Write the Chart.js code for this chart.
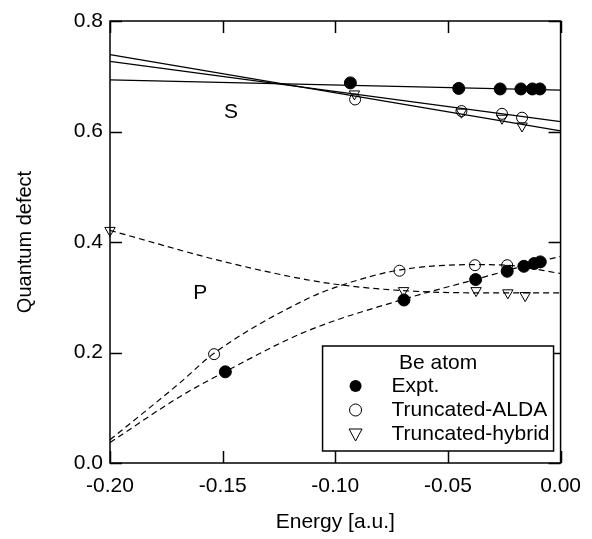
<!DOCTYPE html>
<html>
<head>
<meta charset="utf-8">
<script src="https://cdn.jsdelivr.net/npm/chart.js@4.4.1/dist/chart.umd.min.js"></script>
<style>
  html, body { margin: 0; padding: 0; background: #fff; }
  #grafico { display: block; }
</style>
</head>
<body>
<canvas id="grafico" width="592" height="539"></canvas>
<script>
const xTicks = [-0.20, -0.15, -0.10, -0.05, 0.00];
const yTicks = [0.0, 0.2, 0.4, 0.6, 0.8];

// S series (quantum defect vs energy)
const sExptE = [-0.0933, -0.0452, -0.0268, -0.0176, -0.0125, -0.0092];
const sExptMu = [0.688, 0.678, 0.677, 0.677, 0.677, 0.677];
const sAldaE = [-0.0912, -0.0440, -0.0260, -0.0171];
const sAldaMu = [0.658, 0.637, 0.632, 0.625];
const sHybE = [-0.0915, -0.0440, -0.0260, -0.0171];
const sHybMu = [0.668, 0.635, 0.624, 0.610];

// S straight fits, read at both ends of the axis
const fitE = [-0.20, 0.00];
const sExptFit = [0.6935, 0.6748];
const sAldaFit = [0.7268, 0.6180];
const sHybFit = [0.7393, 0.6010];

// P series
const pExptE = [-0.1488, -0.0695, -0.0377, -0.0237, -0.0163, -0.0117, -0.0090];
const pExptMu = [0.165, 0.295, 0.332, 0.347, 0.356, 0.361, 0.364];
const pAldaE = [-0.1538, -0.0715, -0.0380, -0.0237];
const pAldaMu = [0.197, 0.348, 0.358, 0.358];
const pHybE = [-0.2000, -0.0697, -0.0375, -0.0234, -0.0157];
const pHybMu = [0.421, 0.312, 0.312, 0.308, 0.303];

// P dashed fit curves
const pExptCurveE = [-0.200, -0.169, -0.149, -0.113, -0.070, -0.038, -0.024, -0.012, 0.000];
const pExptCurveMu = [0.037, 0.120, 0.165, 0.238, 0.296, 0.332, 0.348, 0.362, 0.374];
const pAldaCurveE = [-0.200, -0.169, -0.154, -0.113, -0.097, -0.072, -0.039, -0.024, 0.000];
const pAldaCurveMu = [0.042, 0.145, 0.198, 0.296, 0.322, 0.349, 0.359, 0.358, 0.343];
const pHybCurveE = [-0.200, -0.150, -0.113, -0.097, -0.070, -0.038, 0.000];
const pHybCurveMu = [0.421, 0.365, 0.332, 0.322, 0.312, 0.308, 0.308];

const legendTitle = "Be atom";
const legendLabels = ["Expt.", "Truncated-ALDA", "Truncated-hybrid"];

const FONT = "'Liberation Sans', Arial, Helvetica, sans-serif";

const pares = (xs, ys) => xs.map((x, i) => ({ x, y: ys[i] }));

function pontos(data, estilo) {
  const base = {
    data,
    showLine: false,
    clip: 10,
    pointBorderColor: "#000",
    pointBorderWidth: 1,
    pointHoverRadius: 0
  };
  if (estilo === "cheio") {
    return { ...base, pointStyle: "circle", pointRadius: 6, pointBackgroundColor: "#000" };
  }
  if (estilo === "aberto") {
    return { ...base, pointStyle: "circle", pointRadius: 5.5, pointBackgroundColor: "rgba(0,0,0,0)" };
  }
  return { ...base, pointStyle: "triangle", rotation: 180, pointRadius: 6, pointBackgroundColor: "rgba(0,0,0,0)" };
}

function linha(data, tracejada) {
  return {
    data,
    showLine: true,
    pointRadius: 0,
    borderColor: "#000",
    borderWidth: 1.2,
    borderDash: tracejada ? [6, 4] : [],
    cubicInterpolationMode: tracejada ? "monotone" : "default",
    clip: 2
  };
}

const moldura = {
  id: "moldura",
  afterDatasetsDraw(chart) {
    const { ctx, chartArea: a, scales: { x, y } } = chart;
    const tl = 12;
    ctx.save();
    ctx.strokeStyle = "#000";
    ctx.lineWidth = 1.5;
    ctx.strokeRect(a.left, a.top, a.right - a.left, a.bottom - a.top);
    ctx.beginPath();
    xTicks.forEach(v => {
      const px = Math.round(x.getPixelForValue(v)) + 0.5;
      ctx.moveTo(px, a.bottom); ctx.lineTo(px, a.bottom - tl);
      ctx.moveTo(px, a.top); ctx.lineTo(px, a.top + tl);
    });
    yTicks.forEach(v => {
      const py = Math.round(y.getPixelForValue(v)) + 0.5;
      ctx.moveTo(a.left, py); ctx.lineTo(a.left + tl, py);
      ctx.moveTo(a.right, py); ctx.lineTo(a.right - tl, py);
    });
    ctx.stroke();

    // S / P labels
    ctx.fillStyle = "#000";
    ctx.font = "21px " + FONT;
    ctx.textAlign = "center";
    ctx.textBaseline = "middle";
    ctx.fillText("S", x.getPixelForValue(-0.1463), y.getPixelForValue(0.635));
    ctx.fillText("P", x.getPixelForValue(-0.1599), y.getPixelForValue(0.308));

    // legend box
    const w = 231, h = 105;
    const bx = a.right - 7 - w, by = a.bottom - 12 - h;
    ctx.fillStyle = "#fff";
    ctx.fillRect(bx, by, w, h);
    ctx.lineWidth = 1.5;
    ctx.strokeRect(bx, by, w, h);
    ctx.fillStyle = "#000";
    ctx.fillText(legendTitle, bx + w / 2, by + 17);
    ctx.textAlign = "left";
    legendLabels.forEach((txt, i) => {
      const ry = by + 40 + i * 24;
      const mx = bx + 33;
      ctx.lineWidth = 1;
      ctx.beginPath();
      if (i === 0) {
        ctx.arc(mx, ry, 6, 0, Math.PI * 2);
        ctx.fill();
      } else if (i === 1) {
        ctx.arc(mx, ry, 6, 0, Math.PI * 2);
        ctx.stroke();
      } else {
        ctx.moveTo(mx - 6.5, ry - 5);
        ctx.lineTo(mx + 6.5, ry - 5);
        ctx.lineTo(mx, ry + 7);
        ctx.closePath();
        ctx.stroke();
      }
      ctx.fillText(txt, bx + 69, ry);
    });
    ctx.restore();
  }
};

new Chart(document.getElementById("grafico"), {
  type: "scatter",
  data: {
    datasets: [
      pontos(pares(sExptE, sExptMu), "cheio"),
      pontos(pares(pExptE, pExptMu), "cheio"),
      pontos(pares(sAldaE, sAldaMu), "aberto"),
      pontos(pares(pAldaE, pAldaMu), "aberto"),
      pontos(pares(sHybE, sHybMu), "triangulo"),
      pontos(pares(pHybE, pHybMu), "triangulo"),
      linha(pares(fitE, sExptFit), false),
      linha(pares(fitE, sAldaFit), false),
      linha(pares(fitE, sHybFit), false),
      linha(pares(pExptCurveE, pExptCurveMu), true),
      linha(pares(pAldaCurveE, pAldaCurveMu), true),
      linha(pares(pHybCurveE, pHybCurveMu), true)
    ]
  },
  options: {
    responsive: false,
    animation: false,
    devicePixelRatio: 1,
    layout: { padding: { left: 0, right: 24, top: 21, bottom: 0 } },
    plugins: { legend: { display: false }, tooltip: { enabled: false } },
    scales: {
      x: {
        type: "linear",
        min: -0.2,
        max: 0,
        afterBuildTicks: s => { s.ticks = xTicks.map(v => ({ value: v })); },
        afterFit: s => { s.height = 76; },
        grid: { display: false, drawTicks: false },
        border: { display: false },
        ticks: {
          padding: 11,
          color: "#000",
          font: { family: FONT, size: 21 },
          maxRotation: 0,
          callback: v => (Math.abs(v) < 1e-9 ? "0.00" : v.toFixed(2))
        },
        title: {
          display: true,
          text: "Energy [a.u.]",
          color: "#000",
          font: { family: FONT, size: 21 },
          padding: { top: 0, bottom: 4 }
        }
      },
      y: {
        type: "linear",
        min: 0,
        max: 0.8,
        afterBuildTicks: s => { s.ticks = yTicks.map(v => ({ value: v })); },
        afterFit: s => { s.width = 110; },
        grid: { display: false, drawTicks: false },
        border: { display: false },
        ticks: {
          padding: 7,
          color: "#000",
          font: { family: FONT, size: 21 },
          callback: v => v.toFixed(1)
        },
        title: {
          display: true,
          text: "Quantum defect",
          color: "#000",
          font: { family: FONT, size: 20 },
          padding: { top: 13, bottom: 0 }
        }
      }
    }
  },
  plugins: [moldura]
});
</script>
</body>
</html>
